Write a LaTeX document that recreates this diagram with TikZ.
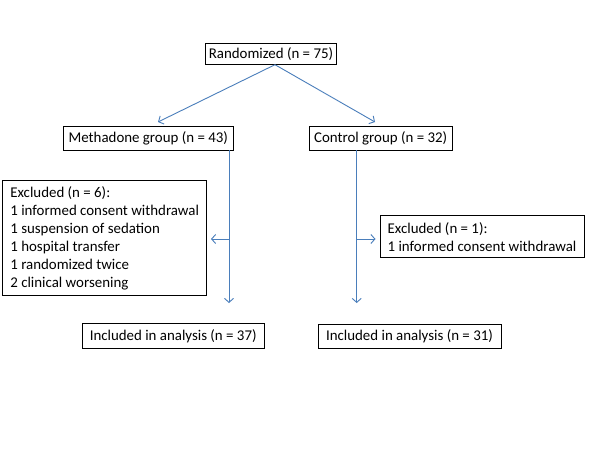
\documentclass[tikz,border=0pt]{standalone}
\usepackage{fontspec}
\setmainfont{Carlito}
\usetikzlibrary{arrows.meta,calc}
\begin{document}
\begin{tikzpicture}[x=1pt,y=-1pt,
  box/.style={draw=black,line width=0.8pt,inner sep=0pt,font=\fontsize{14.9}{18.1}\selectfont},
  arr/.style={draw={rgb,255:red,74;green,126;blue,187},line width=0.9pt,-{Straight Barb[length=4pt,width=9pt]}}]
\useasboundingbox (0,0) rectangle (600,450);
\fill[white] (0,0) rectangle (600,450);
\node[box,minimum width=130.5pt,minimum height=21pt] (rand) at (271,53.8) {Randomized (n = 75)};
\node[box,minimum width=170pt,minimum height=24pt] (meth) at (148.3,138) {Methadone group (n = 43)};
\node[box,minimum width=142.7pt,minimum height=24pt] (ctrl) at (380.7,138) {Control group (n = 32)};
\node[box,minimum width=204pt,minimum height=115pt,align=left] (exL) at (104.7,238.2) {Excluded (n = 6):\\1 informed consent withdrawal\\1 suspension of sedation\\1 hospital transfer\\1 randomized twice\\2 clinical worsening};
\node[box,minimum width=204pt,minimum height=42pt,align=left] (exR) at (482,236.7) {Excluded (n = 1):\\1 informed consent withdrawal};
\node[box,minimum width=181.7pt,minimum height=25pt] (incL) at (173.2,335.8) {Included in analysis (n = 37)};
\node[box,minimum width=183pt,minimum height=24pt] (incR) at (409.5,336) {Included in analysis (n = 31)};
% coordinates
\coordinate (rs) at ($(rand.south)+(4,0)$);
\coordinate (mt) at (158,122);
\coordinate (ct) at (375,122);
\coordinate (ms) at (229,150);
\coordinate (me) at (229,303);
\coordinate (mb) at (229,239);
\coordinate (mx) at (211,239);
\coordinate (cs) at (356.7,150);
\coordinate (ce) at (356.7,303);
\coordinate (cb) at (356.7,239);
\coordinate (cx) at (375.5,239);
\draw[arr] (rs) -- (mt);
\draw[arr] (rs) -- (ct);
\draw[arr] (ms) -- (me);
\draw[arr] (cs) -- (ce);
\draw[arr] (mb) -- (mx);
\draw[arr] (cb) -- (cx);
\end{tikzpicture}
\end{document}
